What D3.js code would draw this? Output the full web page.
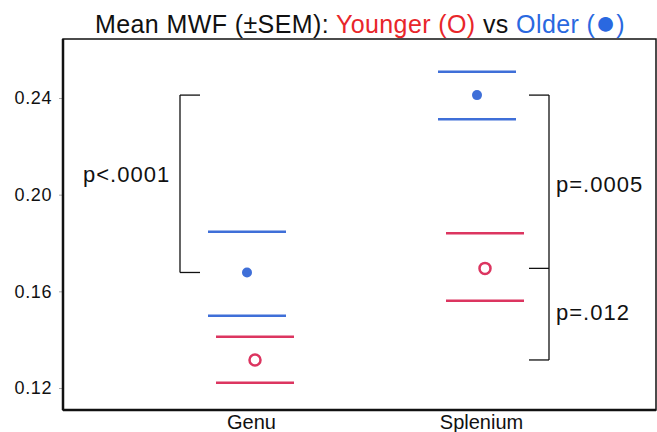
<!DOCTYPE html>
<html>
<head>
<meta charset="utf-8">
<script src="https://cdn.jsdelivr.net/npm/d3@7"></script>
<style>
  body { margin: 0; background: #fff; }
  svg { display: block; font-family: "Liberation Sans", Arial, Helvetica, sans-serif; }
</style>
</head>
<body>
<div id="vis"></div>
<script>
const frame_width = 657;
const frame_height = 432;
const box = {left: 63, right: 656, top: 39, bottom: 410};

// data
const regions = ["Genu", "Splenium"];
const groups = ["Older", "Younger"];
const older_mean = [0.1678, 0.2412];
const older_low = [0.1499, 0.2312];
const older_high = [0.1847, 0.2509];
const younger_mean = [0.1316, 0.1695];
const younger_low = [0.1222, 0.1561];
const younger_high = [0.1412, 0.1840];
const y_ticks = [0.12, 0.16, 0.20, 0.24];

const colors = {Older: "#3f6fd8", Younger: "#dc3560"};
const dodge = {Older: -4, Younger: 4};

const rows = [];
regions.forEach((r, i) => {
    rows.push({region: r, group: "Older", mean: older_mean[i], low: older_low[i], high: older_high[i]});
    rows.push({region: r, group: "Younger", mean: younger_mean[i], low: younger_low[i], high: younger_high[i]});
});

const svg = d3.select("#vis")
    .append("svg")
        .attr("width", frame_width)
        .attr("height", frame_height);

const y_scale = d3.scaleLinear()
    .domain([0.12, 0.24])
    .range([388, 98]);

const x_scale = d3.scalePoint()
    .domain(regions)
    .range([251, 481]);

// frame box
svg.append("rect")
    .attr("x", box.left)
    .attr("y", box.top)
    .attr("width", box.right - box.left)
    .attr("height", box.bottom - box.top)
    .attr("fill", "none")
    .attr("stroke", "#111")
    .attr("stroke-width", 1.5);

// y axis
const y_axis = svg.append("g")
    .attr("transform", "translate(" + box.left + ",0)")
    .call(d3.axisLeft(y_scale).tickValues(y_ticks).tickFormat(d3.format(".2f")).tickSize(4).tickPadding(7));
y_axis.select(".domain").remove();
y_axis.selectAll(".tick line").attr("stroke", "#aaa");
y_axis.selectAll("text")
    .attr("font-size", "18px")
    .attr("letter-spacing", "0.6px")
    .attr("font-family", "Liberation Sans, Arial, sans-serif")
    .attr("fill", "#111");

svg.append("line")
    .attr("x1", box.left).attr("x2", box.left)
    .attr("y1", box.top).attr("y2", box.bottom)
    .attr("stroke", "#111").attr("stroke-width", 2.5);

// x axis
const x_axis = svg.append("g")
    .attr("transform", "translate(0," + box.bottom + ")")
    .call(d3.axisBottom(x_scale).tickSize(0).tickPadding(5));
x_axis.select(".domain").remove();
x_axis.selectAll("text")
    .attr("font-size", "20px")
    .attr("font-family", "Liberation Sans, Arial, sans-serif")
    .attr("fill", "#111");

svg.append("line")
    .attr("x1", box.left).attr("x2", box.right)
    .attr("y1", box.bottom).attr("y2", box.bottom)
    .attr("stroke", "#111").attr("stroke-width", 2.5);

// SEM lines
const half_w = 39;
["low", "high"].forEach((k) => {
    svg.selectAll(".sem-" + k)
        .data(rows)
        .enter()
        .append("line")
            .attr("class", "sem-" + k)
            .attr("x1", (d) => x_scale(d.region) + dodge[d.group] - half_w)
            .attr("x2", (d) => x_scale(d.region) + dodge[d.group] + half_w)
            .attr("y1", (d) => y_scale(d[k]))
            .attr("y2", (d) => y_scale(d[k]))
            .attr("stroke", (d) => colors[d.group])
            .attr("stroke-width", 2.5);
});

// means
svg.selectAll(".mean")
    .data(rows)
    .enter()
    .append("circle")
        .attr("class", "mean")
        .attr("cx", (d) => x_scale(d.region) + dodge[d.group])
        .attr("cy", (d) => y_scale(d.mean))
        .attr("r", (d) => d.group == "Older" ? 5 : 5.5)
        .attr("fill", (d) => d.group == "Older" ? colors.Older : "none")
        .attr("stroke", (d) => colors[d.group])
        .attr("stroke-width", (d) => d.group == "Older" ? 0 : 2.5);

// significance brackets
const brackets = [
    {x: 180, arm: 20, ends: [older_mean[0], older_mean[1]]},
    {x: 549, arm: -20, ends: [older_mean[1], younger_mean[1], younger_mean[0]]}
];
brackets.forEach((b) => {
    svg.append("line")
        .attr("x1", b.x).attr("x2", b.x)
        .attr("y1", y_scale(d3.max(b.ends)))
        .attr("y2", y_scale(d3.min(b.ends)))
        .attr("stroke", "#111").attr("stroke-width", 1.3);
    svg.selectAll(null)
        .data(b.ends)
        .enter()
        .append("line")
            .attr("x1", b.x).attr("x2", b.x + b.arm)
            .attr("y1", (d) => y_scale(d)).attr("y2", (d) => y_scale(d))
            .attr("stroke", "#111").attr("stroke-width", 1.3);
});

const p_labels = [
    {text: "p<.0001", x: 83, y: 182},
    {text: "p=.0005", x: 556, y: 192},
    {text: "p=.012", x: 556, y: 320}
];
svg.selectAll(".plabel")
    .data(p_labels)
    .enter()
    .append("text")
        .attr("class", "plabel")
        .attr("x", (d) => d.x)
        .attr("y", (d) => d.y)
        .attr("font-size", "22px")
        .attr("letter-spacing", "1px")
        .attr("fill", "#111")
        .text((d) => d.text);

// title
const title = svg.append("text")
    .attr("x", 360)
    .attr("y", 33)
    .attr("text-anchor", "middle")
    .attr("font-size", "25px")
    .attr("letter-spacing", "0.4px")
    .attr("fill", "#111");
title.append("tspan").text("Mean MWF (±SEM): ");
title.append("tspan").attr("fill", "#e8262a").text("Younger (O)");
title.append("tspan").text(" vs ");
title.append("tspan").attr("fill", "#2a68e0").text("Older (");
title.append("tspan").attr("fill", "#2a68e0").attr("font-size", "34px").attr("dy", "1").text("●");
title.append("tspan").attr("fill", "#2a68e0").attr("dy", "-1").text(")");
</script>
</body>
</html>
